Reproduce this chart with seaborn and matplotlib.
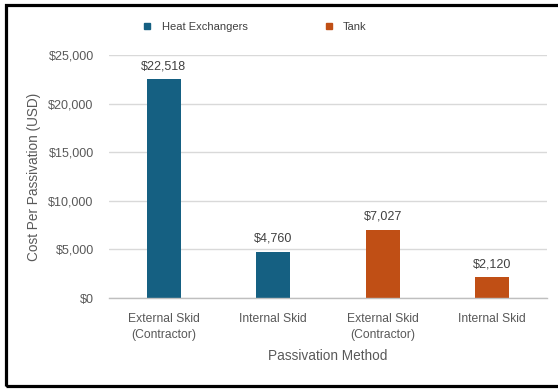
import matplotlib
matplotlib.use("Agg")
import matplotlib.pyplot as plt
import seaborn as sns
import pandas as pd
from matplotlib.lines import Line2D
from matplotlib.patches import Rectangle

# ---- data ----
categories = ["External Skid\n(Contractor)", "Internal Skid",
              "External Skid\n(Contractor)", "Internal Skid"]
series = ["Heat Exchangers", "Heat Exchangers", "Tank", "Tank"]
values = [22518, 4760, 7027, 2120]
series_names = ["Heat Exchangers", "Tank"]
colors = ["#156082", "#C04F15"]
yticks = [0, 5000, 10000, 15000, 20000, 25000]

sns.set_theme(style="white")
plt.rcParams["font.family"] = ["Liberation Sans", "DejaVu Sans"]

df = pd.DataFrame({"pos": [str(i) for i in range(len(values))],
                   "series": series, "value": values})

fig = plt.figure(figsize=(5.58, 3.90), dpi=100)
W, H = 558, 390
ax = fig.add_axes([109 / W, 1 - 298 / H, (547 - 109) / W, (298 - 55) / H])

sns.barplot(data=df, x="pos", y="value", hue="series", hue_order=series_names,
            palette=colors, dodge=False, width=0.31, ax=ax, legend=False,
            saturation=1, linewidth=0)

ax.set_ylim(0, 25000)
ax.set_xlim(-0.5, len(values) - 0.5)
ax.set_yticks(yticks)
ax.set_yticklabels([f"${v:,.0f}" for v in yticks])
ax.set_xticks(range(len(values)))
ax.set_xticklabels(categories, linespacing=1.5)
ax.grid(axis="y", color="#D9D9D9", linewidth=1)
ax.set_axisbelow(True)
for s in ["top", "right", "left"]:
    ax.spines[s].set_visible(False)
ax.spines["bottom"].set_color("#BFBFBF")
ax.spines["bottom"].set_linewidth(1)

ax.tick_params(axis="y", length=0, pad=11, labelsize=9, labelcolor="#595959")
ax.tick_params(axis="x", length=0, pad=10.5, labelsize=8.7, labelcolor="#595959")
# category boundary ticks
ax.set_xticks([i - 0.5 for i in range(len(values) + 1)], minor=True)
ax.tick_params(axis="x", which="minor", length=5, color="#BFBFBF", width=1)

ax.set_xlabel("Passivation Method", fontsize=9.8, color="#595959", labelpad=6)
ax.set_ylabel("Cost Per Passivation (USD)", fontsize=9.8, color="#595959", labelpad=5)

for c in ax.containers:
    ax.bar_label(c, labels=[f"${v:,.0f}" if v == v and v > 0 else "" for v in c.datavalues],
                 padding=5, fontsize=9, color="#404040")

handles = [Line2D([], [], marker="s", linestyle="none", markersize=5,
                  markerfacecolor=col, markeredgecolor=col) for col in colors]
fig.legend(handles, series_names, loc="center left",
           bbox_to_anchor=(144 / W, 1 - 26.5 / H), ncol=2, frameon=False,
           fontsize=8.0, handlelength=0.6, handletextpad=1.0,
           columnspacing=7.0, labelcolor="#404040", borderaxespad=0, borderpad=0)

# outer border (right side lies beyond the image edge)
fig.patches.append(Rectangle((5.5 / W, 1 - 385.5 / H), 600 / W, (385.5 - 5) / H,
                             transform=fig.transFigure, fill=False,
                             edgecolor="black", linewidth=2.3))

fig.savefig("out.png", dpi=100)
